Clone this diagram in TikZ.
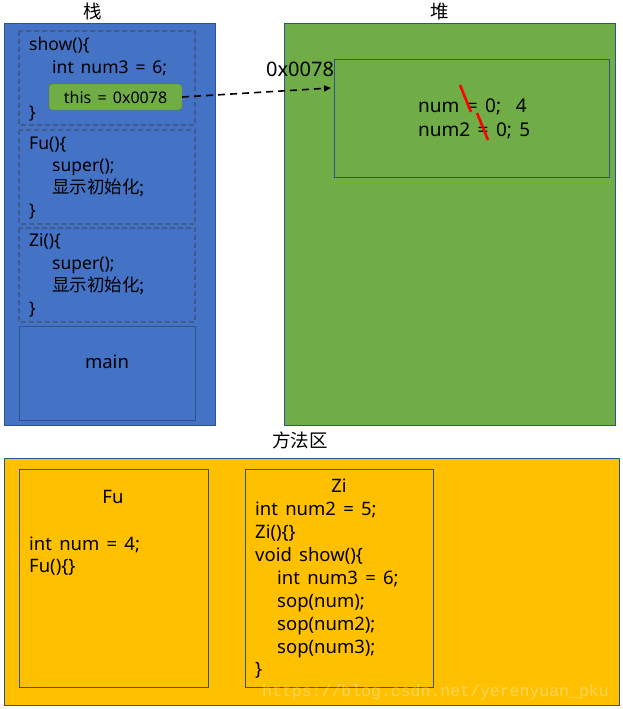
\documentclass[tikz,border=0pt]{standalone}
\usepackage{fontspec}
\setmainfont{Noto Sans}[WordSpace=1.5]
\newfontfamily\cjk{Noto Sans CJK SC}
\newfontfamily\wmfont{Liberation Mono}
\usetikzlibrary{arrows.meta}
\definecolor{stackblue}{HTML}{4472C4}
\definecolor{edgeblue}{HTML}{2F528F}
\definecolor{heapgreen}{HTML}{70AD47}
\definecolor{edgegreen}{HTML}{507E32}
\definecolor{gold}{HTML}{FFC000}
\begin{document}
\begin{tikzpicture}[x=1pt,y=-1pt,
  txt/.style={inner sep=0pt,anchor=base west,font=\fontsize{17.5}{20}\selectfont},
  mtxt/.style={inner sep=0pt,anchor=base west,font=\fontsize{18.5}{22}\selectfont},
  htxt/.style={inner sep=0pt,anchor=base west,font=\fontsize{19}{23}\selectfont},
  ctxt/.style={inner sep=0pt,anchor=base,font=\fontsize{18.5}{22}\selectfont},
  lbl/.style={inner sep=0pt,anchor=base,font=\cjk\fontsize{18.5}{22}\selectfont},
  area/.style={draw=edgeblue,line width=0.8pt},
  frame/.style={draw=edgeblue!80!gray,dashed,dash pattern=on 5pt off 3pt,line width=1.2pt},
  inbox/.style={draw=edgeblue,line width=0.8pt}]
\useasboundingbox (0,0) rectangle (623,709);
% labels of areas
\node[lbl] (lstack) at (93,19) {栈};
\node[lbl] (lheap) at (440,19) {堆};
\node[lbl] (lmeth) at (300,447) {方法区};
% stack
\draw[area,fill=stackblue] (4,23) rectangle (215,425);
\draw[frame] (19,31) rectangle (195,125);
\draw[frame] (19,130) rectangle (195,224);
\draw[frame] (19,228) rectangle (195,322);
\draw[inbox,draw=edgeblue] (19,326) rectangle (195,420);
\node[txt] (s1) at (29,51) {show()\{};
\node[txt] (s2) at (52,74) {int num3 = 6;};
\node[draw=edgegreen,fill=heapgreen,rounded corners=3pt,minimum width=133pt,minimum height=26pt,inner sep=0pt,font=\fontsize{16}{18}\selectfont] (this) at (115.5,97) {this = 0x0078};
\node[txt] (s3) at (29,118) {\}};
\node[txt] (f1) at (29,149.5) {Fu()\{};
\node[txt] (f2) at (52,171.5) {super();};
\node[txt] (f3) at (52,193.5) {\cjk 显示初始化;};
\node[txt] (f4) at (29,216) {\}};
\node[txt] (z1) at (29,246.5) {Zi()\{};
\node[txt] (z2) at (52,269.5) {super();};
\node[txt] (z3) at (52,291.5) {\cjk 显示初始化;};
\node[txt] (z4) at (29,314) {\}};
\node[ctxt] (main) at (107,368) {main};
% heap
\draw[area,fill=heapgreen] (284,23) rectangle (615,425);
\draw[inbox] (334,59) rectangle (609,177);
\coordinate (obj) at (331,88);
\node[htxt,font=\fontsize{20}{24}\selectfont] (addr) at (266,77) {0x0078};
\node[htxt] (h1) at (418,112.5) {num = 0;\ \ 4};
\node[htxt] (h2) at (418,136) {num2 = 0; 5};
\draw[red,line width=2.6pt] (460,85) -- (471,112);
\draw[red,line width=2.6pt] (477,113) -- (488,140);
\draw[dashed,dash pattern=on 7pt off 5pt,line width=1.6pt,-{Triangle[length=7pt,width=6pt]}] (this.east) -- (obj);
% method area
\draw[area,fill=gold] (4,458) rectangle (619,705);
\draw[inbox] (19,469) rectangle (208,687);
\draw[inbox] (245,469) rectangle (433,687);
\node[ctxt] (fu) at (113,503) {Fu};
\node[mtxt] (fu1) at (29,550) {int num = 4;};
\node[mtxt] (fu2) at (29,572.5) {Fu()\{\}};
\node[ctxt] (zi) at (339,492.5) {Zi};
\node[mtxt] (zi1) at (255,515.5) {int num2 = 5;};
\node[mtxt] (zi2) at (255,538.5) {Zi()\{\}};
\node[mtxt] (zi3) at (255,561.5) {void show()\{};
\node[mtxt] (zi4) at (277,584.5) {int num3 = 6;};
\node[mtxt] (zi5) at (277,607.5) {sop(num);};
\node[mtxt] (zi6) at (277,630.5) {sop(num2);};
\node[mtxt] (zi7) at (277,653.5) {sop(num3);};
\node[mtxt] (zi8) at (255,675.5) {\}};
\node[inner sep=0pt,anchor=base west,font=\wmfont\fontsize{16.5}{18}\selectfont,text=white,opacity=0.35] (wm) at (262,696) {https://blog.csdn.net/yerenyuan\_pku};
\end{tikzpicture}
\end{document}
